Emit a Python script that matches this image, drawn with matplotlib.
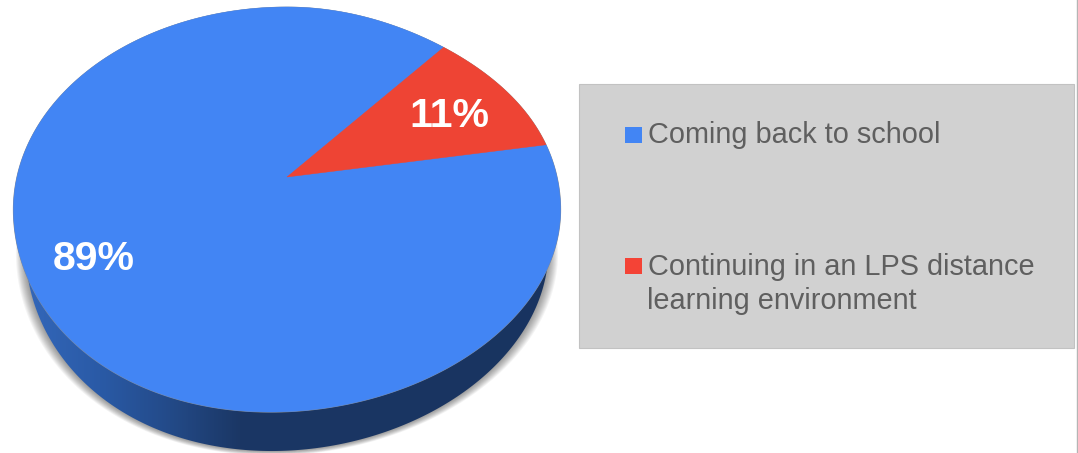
import numpy as np
import matplotlib
matplotlib.use("Agg")
import matplotlib.pyplot as plt
from matplotlib.patches import Polygon, Rectangle
from matplotlib.colors import to_rgb

categories = ["Coming back to school", "Continuing in an LPS distance\nlearning environment"]
shares = [89, 11]
colors = ["#4285f4", "#ee4434"]
legend_colors = ["#4285f4", "#f44336"]
value_labels = ["89%", "11%"]

plt.rcParams["font.family"] = ["Liberation Sans", "DejaVu Sans"]
fig = plt.figure(figsize=(10.78, 4.53), dpi=100)
ax = fig.add_axes([0, 0, 1, 1])

APEX = (287.0, 177.0)
A, B, K = 270.0, 197.3, 0.1605
START = 9.8


def project(theta_deg, radius=1.0, xscale=1.0, dy=0.0):
    t = np.radians(theta_deg)
    u, v = radius * np.cos(t), radius * np.sin(t)
    w = 1 + K * v
    x = A * u / w
    y = B * v / w
    # slight bulge of the lower-left of the tilted disc
    vn = (y + 32.5) / 202.5
    x = x - 16 * np.where(vn < 0, vn ** 2, 0)
    # slight flattening of the upper-right of the disc
    y = y - 4 * np.where((u > 0) & (v > 0), (np.sin(2 * t)) ** 2, 0)
    return APEX[0] + x * xscale, APEX[1] - y + dy


def outline(**kw):
    x, y = project(np.linspace(0, 360, 721), **kw)
    return np.column_stack([x, y])


# soft shadow behind the extruded edge
n = 10
for i in range(n, 0, -1):
    ax.add_patch(Polygon(outline(xscale=0.956 + 0.0035 * i, dy=39 + 0.45 * i),
                         closed=True, fc="#000000", ec="none", alpha=0.045, zorder=1))

# side wall
wall = Polygon(outline(xscale=0.956, dy=39), closed=True, fc="none", ec="none", zorder=2)
ax.add_patch(wall)
xs = np.linspace(0, 600, 300)
stops_x = [20, 100, 170, 240, 600]
stops_c = np.array([to_rgb(c) for c in ["#3468bb", "#2a5aa6", "#234a88", "#1b3765", "#18335f"]])
grad = np.stack([np.interp(xs, stops_x, stops_c[:, i]) for i in range(3)], axis=-1)[None, :, :]
im = ax.imshow(grad, extent=(0, 600, 453, 200), aspect="auto", zorder=2)
im.set_clip_path(wall)

# top face slices, from the shares
sweeps = 360 * np.array(shares) / sum(shares)
red_start = START
blue_start = START + sweeps[1]
starts = [blue_start, red_start]
ax.add_patch(Polygon(outline(radius=1.002), closed=True, fc="#8c8c8c", ec="none", zorder=3))
for start, sweep, col in zip(starts, sweeps, colors):
    th = np.linspace(start, start + sweep, 400)
    x, y = project(th)
    pts = np.vstack([[APEX], np.column_stack([x, y])])
    ax.add_patch(Polygon(pts, closed=True, fc=col, ec=col, lw=0.3, zorder=4))

ax.text(93.5, 270.5, value_labels[0], color="white", fontsize=29.5, fontweight="bold",
        ha="center", va="baseline", zorder=5)
ax.text(449.5, 127, value_labels[1], color="white", fontsize=29.5, fontweight="bold",
        ha="center", va="baseline", zorder=5)

# legend panel
ax.add_patch(Rectangle((579, 84), 495, 264, fc="#d1d1d1", ec="#c2c2c2", lw=0.8, zorder=2))
ax.add_patch(Rectangle((625, 127), 16.5, 16, fc=legend_colors[0], ec="none", zorder=3))
ax.add_patch(Rectangle((625, 258), 16.5, 16, fc=legend_colors[1], ec="none", zorder=3))
ax.text(648, 143, categories[0], color="#5f5f5f", fontsize=20.8, va="baseline", ha="left", zorder=3)
first, second = categories[1].split("\n")
ax.text(648, 275, first, color="#5f5f5f", fontsize=20.8, va="baseline", ha="left", zorder=3)
ax.text(647, 309, second, color="#5f5f5f", fontsize=20.8, va="baseline", ha="left", zorder=3)

ax.axvline(1077, color="#b5b5b5", lw=1, zorder=2)

ax.set_xlim(0, 1078)
ax.set_ylim(453, 0)
ax.axis("off")
fig.savefig("out.png", dpi=100, facecolor="white")
